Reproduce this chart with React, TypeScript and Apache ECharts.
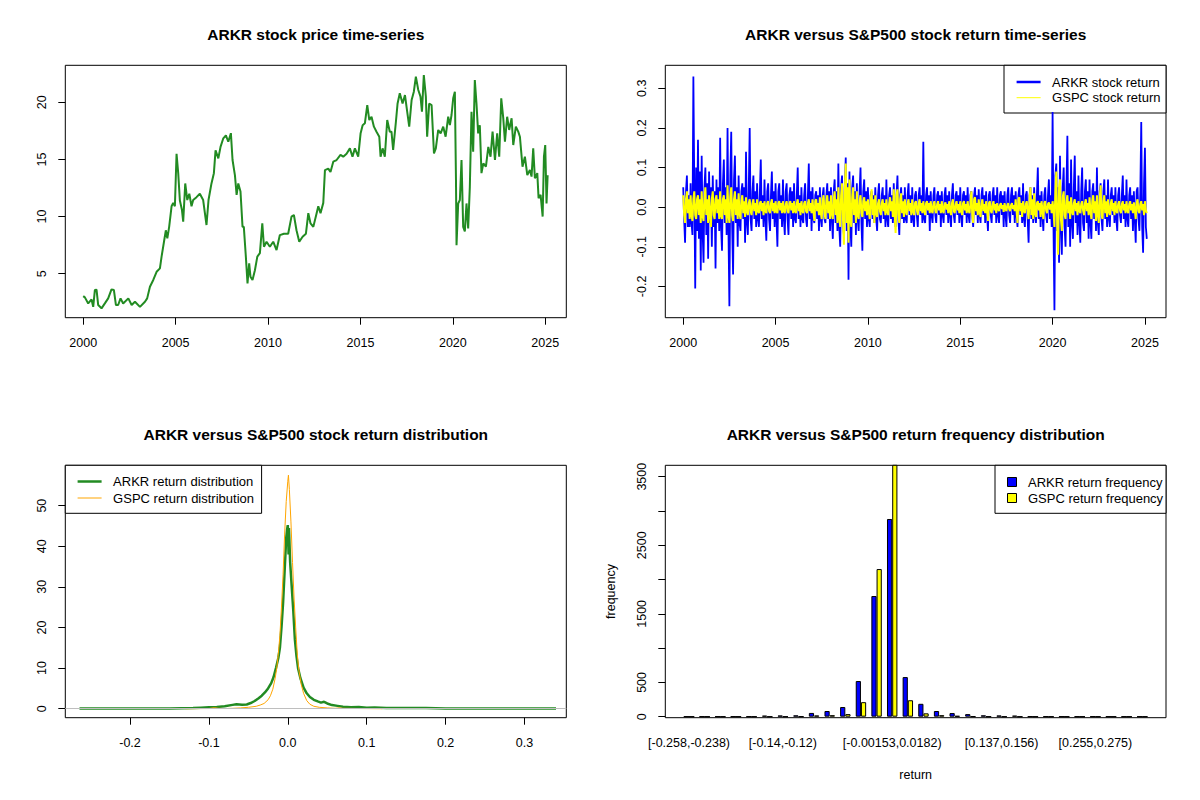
import React, { useRef, useEffect } from 'react'
import * as echarts from 'echarts'

// ---- price series ----
const priceYears = [
  2000.0, 2000.09, 2000.27, 2000.45, 2000.54, 2000.63, 2000.72, 2000.81, 2000.99, 2001.17,
  2001.35, 2001.53, 2001.66, 2001.77, 2001.89, 2002.02, 2002.16, 2002.44, 2002.62, 2002.8,
  2003.07, 2003.34, 2003.46, 2003.61, 2003.79, 2003.97, 2004.15, 2004.24, 2004.37, 2004.47,
  2004.55, 2004.65, 2004.78, 2004.87, 2004.96, 2005.05, 2005.14, 2005.23, 2005.34, 2005.41,
  2005.52, 2005.63, 2005.74, 2005.86, 2005.95, 2006.13, 2006.31, 2006.49, 2006.67, 2006.78,
  2006.94, 2007.07, 2007.16, 2007.31, 2007.43, 2007.58, 2007.72, 2007.85, 2007.99, 2008.08,
  2008.21, 2008.3, 2008.39, 2008.51, 2008.62, 2008.69, 2008.8, 2008.89, 2008.98, 2009.05,
  2009.16, 2009.29, 2009.42, 2009.56, 2009.69, 2009.78, 2009.92, 2010.1, 2010.28, 2010.46,
  2010.64, 2010.86, 2011.09, 2011.27, 2011.4, 2011.54, 2011.69, 2011.87, 2012.05, 2012.18,
  2012.3, 2012.45, 2012.63, 2012.72, 2012.84, 2012.99, 2013.08, 2013.26, 2013.38, 2013.53,
  2013.71, 2013.92, 2014.07, 2014.25, 2014.43, 2014.57, 2014.7, 2014.88, 2015.01, 2015.12,
  2015.24, 2015.37, 2015.48, 2015.6, 2015.73, 2015.87, 2016.02, 2016.09, 2016.2, 2016.32,
  2016.45, 2016.59, 2016.68, 2016.77, 2016.92, 2017.01, 2017.13, 2017.28, 2017.41, 2017.53,
  2017.64, 2017.77, 2017.89, 2018.0, 2018.13, 2018.25, 2018.33, 2018.43, 2018.54, 2018.61,
  2018.72, 2018.85, 2018.98, 2019.08, 2019.21, 2019.34, 2019.48, 2019.61, 2019.75, 2019.84,
  2019.93, 2020.02, 2020.11, 2020.17, 2020.2, 2020.29, 2020.38, 2020.47, 2020.56, 2020.65,
  2020.74, 2020.83, 2020.92, 2021.01, 2021.1, 2021.19, 2021.28, 2021.37, 2021.46, 2021.55,
  2021.65, 2021.79, 2021.92, 2022.04, 2022.15, 2022.28, 2022.4, 2022.51, 2022.62, 2022.73,
  2022.82, 2022.94, 2023.05, 2023.18, 2023.27, 2023.41, 2023.54, 2023.63, 2023.77, 2023.9,
  2024.03, 2024.17, 2024.26, 2024.35, 2024.44, 2024.57, 2024.64, 2024.75, 2024.86, 2024.93,
  2025.0, 2025.07, 2025.13,
]
const priceValues = [
  3.04, 2.93, 2.4, 2.75, 2.1, 3.57, 3.6, 2.26, 1.97, 2.4,
  2.84, 3.63, 3.57, 2.26, 2.26, 2.84, 2.4, 2.84, 2.26, 2.55,
  2.1, 2.55, 2.84, 3.86, 4.45, 5.17, 5.47, 6.5, 7.8, 8.8,
  8.1, 9.1, 10.9, 11.2, 10.9, 15.5, 13.8, 11.4, 10.6, 9.55,
  12.9, 11.45, 12.0, 10.9, 11.45, 11.7, 12.0, 11.45, 9.26, 11.45,
  12.9, 13.8, 15.8, 15.1, 16.1, 16.85, 17.1, 16.55, 17.3, 14.95,
  13.6, 11.9, 12.9, 12.2, 9.1, 9.1, 6.5, 4.15, 5.9, 4.74,
  4.45, 5.3, 6.5, 6.8, 9.4, 7.36, 7.8, 7.36, 7.8, 7.07,
  8.38, 8.5, 8.5, 10.0, 10.14, 8.8, 7.8, 8.24, 8.5, 10.3,
  9.4, 9.1, 10.3, 10.9, 10.3, 11.2, 14.07, 14.2, 13.9, 14.8,
  14.95, 15.4, 15.24, 15.5, 15.97, 15.24, 15.97, 15.24, 17.3, 18.0,
  18.16, 19.76, 18.45, 18.74, 17.87, 17.43, 16.99, 15.24, 15.97, 15.24,
  18.45, 17.43, 17.43, 15.83, 18.3, 19.9, 20.8, 19.9, 20.64, 19.18,
  17.87, 20.2, 20.93, 22.25, 21.08, 20.5, 19.18, 22.39, 20.5, 16.99,
  19.9, 19.76, 15.53, 15.97, 17.58, 17.28, 17.87, 16.99, 18.74, 18.0,
  18.89, 20.35, 20.93, 13.2, 7.5, 11.15, 11.45, 14.95, 9.1, 8.7,
  11.15, 8.97, 12.6, 19.18, 15.68, 21.95, 19.9, 17.28, 18.0, 13.8,
  14.66, 14.37, 16.1, 15.24, 17.43, 14.95, 17.28, 15.24, 20.35, 18.6,
  16.55, 18.74, 17.58, 18.6, 16.26, 17.87, 17.43, 16.99, 14.37, 15.24,
  13.63, 14.07, 13.5, 15.97, 13.35, 13.8, 11.6, 11.9, 10.0, 15.24,
  16.26, 11.15, 13.63,
]

// ---- daily returns, sampled twenty times a year from 2000 ----
const returnStartYear = 2000
const returnStep = 0.05
const arkrReturns = [
  0.05, -0.03, -0.09, 0.04, 0.08, -0.05, 0.03, -0.05, 0.06, -0.04, -0.07, 0.33, 0.05, -0.205, 0.1, -0.06, 0.17, -0.08, 0.09, -0.16,
  0.13, -0.06, -0.14, 0.05, 0.1, -0.07, 0.06, -0.13, 0.09, -0.04, 0.05, -0.1, 0.08, -0.05, 0.04, -0.155, 0.07, -0.04, 0.05, -0.06,
  0.175, -0.05, -0.11, 0.06, 0.12, -0.04, 0.05, -0.07, 0.2, -0.06, -0.25, 0.08, 0.19, -0.05, -0.17, 0.07, 0.13, -0.04, 0.05, -0.1,
  0.08, -0.04, -0.06, 0.04, 0.06, -0.03, 0.05, -0.09, 0.14, -0.04, -0.07, 0.05, 0.2, -0.03, -0.06, 0.04, 0.08, -0.03, 0.04, -0.05,
  0.06, -0.03, -0.05, 0.04, 0.12, -0.03, 0.03, -0.05, 0.07, -0.03, -0.085, 0.04, 0.06, -0.03, -0.06, 0.03, 0.09, -0.03, 0.04, -0.05,
  0.06, -0.03, -0.1, 0.04, 0.06, -0.03, 0.03, -0.05, 0.07, -0.03, -0.07, 0.04, 0.06, -0.03, -0.07, 0.03, 0.05, -0.03, 0.04, -0.05,
  0.06, -0.03, -0.04, 0.03, 0.1, -0.03, 0.03, -0.05, 0.05, -0.03, -0.04, 0.03, 0.06, -0.03, -0.05, 0.03, 0.11, -0.03, 0.04, -0.06,
  0.05, -0.03, -0.04, 0.03, 0.04, -0.03, 0.03, -0.06, 0.05, -0.03, -0.05, 0.03, 0.05, -0.03, -0.04, 0.03, 0.06, -0.03, 0.04, -0.06,
  0.05, -0.03, -0.08, 0.04, 0.07, -0.04, 0.04, -0.06, 0.11, -0.05, -0.1, 0.05, 0.08, -0.04, -0.07, 0.05, 0.125, -0.06, 0.06, -0.183,
  0.09, -0.04, -0.1, 0.05, 0.08, -0.04, 0.04, -0.07, 0.06, -0.03, -0.06, 0.04, 0.1, -0.04, -0.11, 0.04, 0.07, -0.03, 0.04, -0.05,
  0.05, -0.03, -0.05, 0.03, 0.04, -0.03, 0.03, -0.04, 0.05, -0.03, -0.06, 0.03, 0.06, -0.03, -0.04, 0.03, 0.05, -0.03, 0.03, -0.05,
  0.07, -0.03, -0.05, 0.03, 0.05, -0.03, 0.03, -0.04, 0.06, -0.03, -0.05, 0.03, 0.08, -0.03, -0.07, 0.03, 0.05, -0.03, 0.03, -0.04,
  0.05, -0.03, -0.04, 0.03, 0.06, -0.02, 0.03, -0.04, 0.05, -0.03, -0.05, 0.03, 0.04, -0.02, -0.05, 0.03, 0.05, -0.02, 0.03, -0.04,
  0.165, -0.03, -0.04, 0.03, 0.05, -0.02, 0.03, -0.06, 0.04, -0.02, -0.04, 0.03, 0.05, -0.02, -0.04, 0.03, 0.04, -0.02, 0.03, -0.05,
  0.04, -0.02, -0.04, 0.03, 0.05, -0.02, 0.03, -0.04, 0.04, -0.02, -0.05, 0.03, 0.06, -0.02, -0.04, 0.03, 0.04, -0.02, 0.03, -0.04,
  0.05, -0.02, -0.05, 0.03, 0.04, -0.02, 0.03, -0.04, 0.05, -0.02, -0.04, 0.03, 0.04, -0.02, -0.05, 0.03, 0.05, -0.02, 0.03, -0.04,
  0.045, -0.02, -0.04, 0.03, 0.05, -0.02, 0.03, -0.04, 0.04, -0.02, -0.06, 0.03, 0.04, -0.02, -0.04, 0.03, 0.05, -0.02, 0.03, -0.04,
  0.05, -0.02, -0.04, 0.03, 0.04, -0.02, 0.03, -0.05, 0.04, -0.02, -0.05, 0.03, 0.05, -0.02, -0.04, 0.03, 0.05, -0.02, 0.03, -0.04,
  0.04, -0.02, -0.05, 0.03, 0.05, -0.02, 0.03, -0.04, 0.06, -0.03, -0.05, 0.03, 0.04, -0.03, -0.09, 0.03, 0.05, -0.03, 0.03, -0.04,
  0.05, -0.02, -0.04, 0.03, 0.1, -0.03, 0.03, -0.05, 0.04, -0.02, -0.06, 0.03, 0.05, -0.02, -0.04, 0.03, 0.07, -0.03, 0.03, -0.05,
  0.24, -0.06, -0.26, 0.08, 0.11, -0.06, 0.05, -0.14, 0.13, -0.05, -0.12, 0.05, 0.1, -0.05, -0.1, 0.05, 0.18, -0.05, 0.06, -0.1,
  0.12, -0.04, -0.08, 0.05, 0.13, -0.04, 0.04, -0.07, 0.08, -0.04, -0.09, 0.04, 0.1, -0.04, -0.06, 0.04, 0.07, -0.04, 0.04, -0.08,
  0.07, -0.04, -0.08, 0.04, 0.06, -0.03, 0.04, -0.06, 0.1, -0.04, -0.07, 0.04, 0.06, -0.03, -0.06, 0.04, 0.07, -0.03, 0.03, -0.05,
  0.07, -0.03, -0.05, 0.03, 0.05, -0.02, 0.03, -0.04, 0.05, -0.03, -0.06, 0.03, 0.05, -0.02, -0.04, 0.03, 0.08, -0.03, 0.03, -0.05,
  0.07, -0.03, -0.05, 0.03, 0.05, -0.03, 0.03, -0.06, 0.04, -0.03, -0.09, 0.04, 0.05, -0.03, -0.06, 0.04, 0.215, -0.05, -0.115, 0.06,
  0.15, -0.05, -0.08,
]
const gspcReturns = [
  0.03, -0.02, -0.04, 0.02, 0.04, -0.015, 0.02, -0.03, 0.03, -0.02, -0.035, 0.02, 0.04, -0.02, -0.03, 0.02, 0.03, -0.02, 0.02, -0.04,
  0.04, -0.02, -0.035, 0.02, 0.05, -0.02, 0.02, -0.04, 0.03, -0.02, -0.05, 0.02, 0.04, -0.02, -0.03, 0.02, 0.03, -0.015, 0.02, -0.03,
  0.04, -0.02, -0.03, 0.02, 0.03, -0.02, 0.02, -0.04, 0.055, -0.02, -0.04, 0.025, 0.05, -0.02, -0.035, 0.02, 0.04, -0.02, 0.02, -0.03,
  0.035, -0.015, -0.03, 0.015, 0.03, -0.015, 0.015, -0.025, 0.025, -0.01, -0.02, 0.01, 0.02, -0.01, -0.02, 0.01, 0.02, -0.01, 0.01, -0.02,
  0.02, -0.01, -0.015, 0.01, 0.015, -0.01, 0.01, -0.02, 0.015, -0.01, -0.015, 0.01, 0.015, -0.01, -0.015, 0.01, 0.02, -0.01, 0.01, -0.015,
  0.015, -0.01, -0.015, 0.01, 0.015, -0.008, 0.01, -0.015, 0.015, -0.01, -0.015, 0.008, 0.015, -0.01, -0.015, 0.01, 0.015, -0.008, 0.01, -0.015,
  0.015, -0.01, -0.015, 0.01, 0.02, -0.01, 0.01, -0.02, 0.015, -0.008, -0.015, 0.01, 0.015, -0.01, -0.015, 0.01, 0.02, -0.01, 0.01, -0.015,
  0.02, -0.01, -0.035, 0.015, 0.02, -0.01, 0.01, -0.02, 0.025, -0.015, -0.03, 0.015, 0.03, -0.015, -0.03, 0.015, 0.03, -0.015, 0.015, -0.03,
  0.03, -0.015, -0.03, 0.02, 0.04, -0.02, 0.02, -0.04, 0.05, -0.025, -0.05, 0.03, 0.06, -0.03, -0.095, 0.04, 0.11, -0.04, 0.05, -0.09,
  0.07, -0.03, -0.05, 0.025, 0.05, -0.02, 0.02, -0.04, 0.04, -0.02, -0.03, 0.015, 0.03, -0.015, -0.025, 0.015, 0.025, -0.01, 0.015, -0.02,
  0.02, -0.01, -0.03, 0.015, 0.045, -0.02, 0.02, -0.04, 0.03, -0.015, -0.025, 0.01, 0.02, -0.01, -0.02, 0.01, 0.02, -0.01, 0.01, -0.02,
  0.02, -0.01, -0.02, 0.01, 0.025, -0.01, 0.015, -0.025, 0.045, -0.02, -0.065, 0.03, 0.045, -0.02, -0.04, 0.02, 0.035, -0.015, 0.015, -0.025,
  0.02, -0.01, -0.02, 0.01, 0.02, -0.01, 0.01, -0.02, 0.02, -0.01, -0.02, 0.01, 0.015, -0.008, -0.02, 0.01, 0.02, -0.01, 0.01, -0.015,
  0.015, -0.008, -0.02, 0.01, 0.015, -0.008, 0.01, -0.015, 0.015, -0.008, -0.015, 0.008, 0.015, -0.008, -0.015, 0.008, 0.015, -0.008, 0.008, -0.015,
  0.015, -0.008, -0.015, 0.008, 0.012, -0.006, 0.008, -0.015, 0.015, -0.008, -0.02, 0.01, 0.02, -0.01, -0.015, 0.008, 0.015, -0.008, 0.008, -0.015,
  0.015, -0.008, -0.02, 0.01, 0.015, -0.008, 0.008, -0.015, 0.015, -0.008, -0.015, 0.008, 0.04, -0.02, -0.04, 0.02, 0.025, -0.01, 0.01, -0.02,
  0.02, -0.01, -0.025, 0.01, 0.02, -0.01, 0.008, -0.015, 0.015, -0.008, -0.035, 0.01, 0.015, -0.008, -0.015, 0.008, 0.015, -0.008, 0.008, -0.015,
  0.01, -0.005, -0.01, 0.005, 0.01, -0.005, 0.005, -0.012, 0.01, -0.005, -0.01, 0.005, 0.01, -0.005, -0.01, 0.005, 0.01, -0.005, 0.005, -0.01,
  0.02, -0.01, -0.04, 0.02, 0.025, -0.01, 0.01, -0.025, 0.015, -0.008, -0.015, 0.008, 0.015, -0.01, -0.03, 0.015, 0.05, -0.02, 0.02, -0.03,
  0.035, -0.015, -0.025, 0.01, 0.015, -0.008, 0.01, -0.025, 0.015, -0.008, -0.03, 0.01, 0.015, -0.008, -0.015, 0.008, 0.012, -0.006, 0.008, -0.015,
  0.015, -0.01, -0.05, 0.04, 0.09, -0.05, -0.12, 0.05, 0.07, -0.03, -0.06, 0.025, 0.04, -0.02, -0.03, 0.015, 0.03, -0.015, 0.015, -0.03,
  0.025, -0.01, -0.02, 0.01, 0.02, -0.01, 0.01, -0.02, 0.015, -0.008, -0.015, 0.008, 0.015, -0.008, -0.02, 0.01, 0.02, -0.01, 0.01, -0.02,
  0.025, -0.01, -0.03, 0.015, 0.03, -0.015, 0.015, -0.035, 0.03, -0.015, -0.04, 0.02, 0.055, -0.02, -0.03, 0.015, 0.03, -0.015, 0.015, -0.025,
  0.02, -0.01, -0.02, 0.01, 0.02, -0.01, 0.01, -0.02, 0.015, -0.008, -0.015, 0.008, 0.015, -0.008, -0.015, 0.008, 0.015, -0.008, 0.008, -0.015,
  0.015, -0.008, -0.015, 0.008, 0.015, -0.008, 0.008, -0.015, 0.012, -0.006, -0.03, 0.01, 0.02, -0.01, -0.015, 0.008, 0.015, -0.008, 0.008, -0.02,
  0.015, -0.008, -0.015,
]

// ---- kernel density estimates ----
const arkrDensX = [
  -0.264, -0.2, -0.15, -0.12, -0.11, -0.1, -0.09, -0.08, -0.07, -0.065,
  -0.058, -0.052, -0.047, -0.042, -0.037, -0.033, -0.029, -0.025, -0.021, -0.018,
  -0.015, -0.012, -0.01, -0.008, -0.006, -0.004, -0.002, -0.001, 0.0, 0.001,
  0.0015, 0.003, 0.005, 0.007, 0.009, 0.011, 0.013, 0.016, 0.02, 0.024,
  0.028, 0.033, 0.038, 0.042, 0.046, 0.05, 0.056, 0.063, 0.07, 0.08,
  0.09, 0.1, 0.11, 0.125, 0.15, 0.175, 0.2, 0.25, 0.34,
]
const arkrDensY = [
  0.05, 0.05, 0.06, 0.15, 0.25, 0.35, 0.45, 0.6, 0.95, 1.1,
  1.0, 1.05, 1.4, 1.9, 2.6, 3.2, 4.0, 5.0, 6.3, 7.8,
  10.0, 12.5, 15.0, 20, 26, 34, 42, 44, 45.2, 38,
  44.5, 36, 30, 24, 17, 13, 10, 7.5, 5.2, 3.8,
  2.9, 2.2, 1.8, 1.5, 1.7, 1.3, 0.9, 0.7, 0.5, 0.35,
  0.4, 0.25, 0.3, 0.2, 0.2, 0.15, 0.05, 0.05, 0.05,
]
const gspcDensX = [
  -0.13, -0.1, -0.093, -0.088, -0.08, -0.07, -0.06, -0.05, -0.04, -0.035,
  -0.03, -0.025, -0.022, -0.019, -0.016, -0.014, -0.012, -0.01, -0.008, -0.006,
  -0.004, -0.002, 0.0, 0.0008, 0.002, 0.004, 0.006, 0.008, 0.01, 0.012,
  0.014, 0.017, 0.02, 0.024, 0.028, 0.033, 0.04, 0.05, 0.06, 0.065,
  0.07, 0.09, 0.12,
]
const gspcDensY = [
  0.0, 0.05, 0.25, 0.1, 0.05, 0.1, 0.2, 0.35, 0.6, 0.9,
  1.3, 2.2, 3.2, 4.8, 7.5, 10, 13.5, 18, 25, 33,
  43, 51, 56, 57.5, 54, 46, 36, 27, 20, 13.5,
  9.5, 6, 3.8, 2.0, 1.1, 0.6, 0.35, 0.2, 0.1, 0.2,
  0.1, 0.05, 0.0,
]

// ---- return frequency table ----
const binLabels = [
  '[-0.258,-0.238)', '[-0.238,-0.219)', '[-0.219,-0.199)', '[-0.199,-0.179)', '[-0.179,-0.159)',
  '[-0.159,-0.14)', '[-0.14,-0.12)', '[-0.12,-0.1)', '[-0.1,-0.0804)', '[-0.0804,-0.0607)',
  '[-0.0607,-0.041)', '[-0.041,-0.0212)', '[-0.0212,-0.00153)', '[-0.00153,0.0182)', '[0.0182,0.0379)',
  '[0.0379,0.0577)', '[0.0577,0.0774)', '[0.0774,0.0971)', '[0.0971,0.117)', '[0.117,0.137)',
  '[0.137,0.156)', '[0.156,0.176)', '[0.176,0.196)', '[0.196,0.215)', '[0.215,0.235)',
  '[0.235,0.255)', '[0.255,0.275)', '[0.275,0.294)', '[0.294,0.314)', '[0.314,0.334]',
]
const shownBinLabels = [0, 6, 13, 20, 26]
const arkrFreq = [
  1, 1, 2, 1, 2, 15, 18, 20, 55, 83,
  141, 520, 1760, 2883, 578, 188, 83, 53, 38, 20,
  18, 15, 3, 2, 1, 1, 2, 1, 0, 1,
]
const gspcFreq = [
  0, 0, 0, 0, 0, 0, 0, 3, 18, 22,
  38, 212, 2153, 3700, 240, 49, 22, 12, 4, 1,
  0, 0, 0, 0, 0, 0, 0, 0, 0, 0,
]

// ---- tick labels ----
const yearTicks = [2000, 2005, 2010, 2015, 2020, 2025]
const priceTicks = [5, 10, 15, 20]
const returnTicks = [-0.2, -0.1, 0, 0.1, 0.2, 0.3]
const densXTicks = [-0.2, -0.1, 0, 0.1, 0.2, 0.3]
const densYTicks = [0, 10, 20, 30, 40, 50]
const freqTicks = [0, 500, 1000, 1500, 2000, 2500, 3000, 3500]
const freqLabels = [0, 500, 1500, 2500, 3500]

const FONT = '"Liberation Sans", Arial, Helvetica, sans-serif'
const GREEN = '#228B22'

function valueAxis(gridIndex: number, min: number, max: number, ticks: number[], labels: number[], vertical: boolean, fmt?: (v: number) => string, extra: any = {}) {
  return {
    type: 'value',
    gridIndex,
    min,
    max,
    splitLine: { show: false },
    axisLine: { show: false, onZero: false },
    axisTick: { show: true, inside: false, length: 7, customValues: ticks, lineStyle: { color: '#000', width: 1 } },
    axisLabel: {
      show: true,
      customValues: labels,
      color: '#000',
      fontFamily: FONT,
      fontSize: 12.5,
      margin: vertical ? 17 : 19,
      rotate: vertical ? 90 : 0,
      formatter: fmt || ((v: number) => String(v)),
    },
    ...extra,
  }
}

function legendLine(x: number, y: number, color: string, width: number, text: string) {
  return [
    { type: 'line', silent: true, shape: { x1: x, y1: y, x2: x + 24, y2: y }, style: { stroke: color, lineWidth: width } },
    {
      type: 'text', silent: true, x: x + 35.5, y,
      style: { text, fill: '#000', font: '13px ' + FONT, textAlign: 'left', textVerticalAlign: 'middle', align: 'left', verticalAlign: 'middle' },
    },
  ]
}

function legendBox(x: number, y: number, color: string, text: string) {
  return [
    { type: 'rect', silent: true, shape: { x: x - 4.5, y: y - 4.5, width: 9, height: 9 }, style: { fill: color, stroke: '#000', lineWidth: 1 } },
    {
      type: 'text', silent: true, x: x + 16, y,
      style: { text, fill: '#000', font: '13px ' + FONT, textAlign: 'left', textVerticalAlign: 'middle', align: 'left', verticalAlign: 'middle' },
    },
  ]
}

function label(x: number, y: number, text: string, bold: boolean, size: number, rotation = 0) {
  return {
    type: 'text', silent: true, x, y, rotation,
    style: {
      text, fill: '#000', font: (bold ? 'bold ' : '') + size + 'px ' + FONT,
      textAlign: 'center', textVerticalAlign: 'middle', align: 'center', verticalAlign: 'middle',
    },
  }
}

function ReturnCharts() {
  const chartRef = useRef(null)

  useEffect(() => {
    document.body.style.margin = '0'
    const chart = echarts.init(chartRef.current, null, { renderer: 'svg' })

    const gridBox = { show: true, borderColor: '#000', borderWidth: 1, backgroundColor: 'transparent', containLabel: false, outerBoundsMode: 'none' }
    const fmt1 = (v: number) => v.toFixed(1)

    const option = {
      animation: false,
      backgroundColor: '#fff',
      grid: [
        { ...gridBox, left: 65.3, top: 65.3, width: 501, height: 252.4 },
        { ...gridBox, left: 665.3, top: 65.3, width: 500.7, height: 252.4 },
        { ...gridBox, left: 65.3, top: 465.3, width: 501, height: 252.4 },
        { ...gridBox, show: false, left: 681.2, top: 465.3, width: 468.9, height: 251.4 },
      ],
      xAxis: [
        valueAxis(0, 1999.03, 2026.14, yearTicks, yearTicks, false),
        valueAxis(1, 1999.03, 2026.14, yearTicks, yearTicks, false),
        valueAxis(2, -0.282, 0.353, densXTicks, densXTicks, false, fmt1),
        {
          type: 'category',
          gridIndex: 3,
          data: binLabels,
          axisLine: { show: false },
          axisTick: { show: false },
          splitLine: { show: false },
          axisLabel: {
            interval: (i: number) => shownBinLabels.includes(i),
            color: '#000',
            fontFamily: FONT,
            fontSize: 12.5,
            margin: 20,
          },
        },
      ],
      yAxis: [
        valueAxis(0, 1.15, 23.24, priceTicks, priceTicks, true),
        valueAxis(1, -0.279, 0.358, returnTicks, returnTicks, true, fmt1),
        valueAxis(2, -2.21, 59.93, densYTicks, densYTicks, true),
        valueAxis(3, 0, 3666, freqTicks, freqLabels, true, undefined, { offset: 15.9 }),
      ],
      series: [
        {
          type: 'line', xAxisIndex: 0, yAxisIndex: 0, showSymbol: false, silent: true,
          data: priceYears.map((y, i) => [y, priceValues[i]]),
          lineStyle: { color: GREEN, width: 2 },
        },
        {
          type: 'line', xAxisIndex: 1, yAxisIndex: 1, showSymbol: false, silent: true,
          data: arkrReturns.map((v, i) => [returnStartYear + i * returnStep, v]),
          lineStyle: { color: '#0000FF', width: 1.8 },
        },
        {
          type: 'line', xAxisIndex: 1, yAxisIndex: 1, showSymbol: false, silent: true,
          data: gspcReturns.map((v, i) => [returnStartYear + i * returnStep, v]),
          lineStyle: { color: '#FFFF00', width: 2 },
        },
        {
          type: 'line', xAxisIndex: 2, yAxisIndex: 2, showSymbol: false, silent: true,
          data: arkrDensX.map((x, i) => [x, arkrDensY[i]]),
          lineStyle: { color: GREEN, width: 2.5 },
          markLine: {
            silent: true, symbol: ['none', 'none'], label: { show: false },
            lineStyle: { color: '#BEBEBE', width: 1, type: 'solid' },
            data: [{ yAxis: 0 }],
          },
        },
        {
          type: 'line', xAxisIndex: 2, yAxisIndex: 2, showSymbol: false, silent: true,
          data: gspcDensX.map((x, i) => [x, gspcDensY[i]]),
          lineStyle: { color: '#FFA500', width: 1 },
        },
        {
          type: 'bar', xAxisIndex: 3, yAxisIndex: 3, silent: true,
          data: arkrFreq, barGap: '0%', barCategoryGap: '33.333%',
          itemStyle: { color: '#0000FF', borderColor: '#000', borderWidth: 1 },
        },
        {
          type: 'bar', xAxisIndex: 3, yAxisIndex: 3, silent: true,
          data: gspcFreq, barGap: '0%', barCategoryGap: '33.333%',
          itemStyle: { color: '#FFFF00', borderColor: '#000', borderWidth: 1 },
        },
      ],
      graphic: [
        label(315.8, 34, 'ARKR stock price time-series', true, 15.5),
        label(915.7, 34, 'ARKR versus S&P500 stock return time-series', true, 15.5),
        label(315.8, 434, 'ARKR versus S&P500 stock return distribution', true, 15.5),
        label(915.7, 434, 'ARKR versus S&P500 return frequency distribution', true, 15.5),
        label(915.7, 775, 'return', false, 12.5),
        label(611, 591.5, 'frequency', false, 12.5, Math.PI / 2),
        // frequency panel box
        { type: 'rect', silent: true, shape: { x: 665.3, y: 465.3, width: 500.7, height: 252.4 }, style: { fill: 'none', stroke: '#000', lineWidth: 1 } },
        // legend: returns
        { type: 'rect', silent: true, shape: { x: 1004, y: 65.3, width: 162, height: 47.7 }, style: { fill: '#fff', stroke: '#000', lineWidth: 1 } },
        ...legendLine(1016.6, 82, '#0000FF', 2.5, 'ARKR stock return'),
        ...legendLine(1016.6, 97.7, '#FFFF00', 1, 'GSPC stock return'),
        // legend: densities
        { type: 'rect', silent: true, shape: { x: 65.3, y: 465.3, width: 196.3, height: 48 }, style: { fill: '#fff', stroke: '#000', lineWidth: 1 } },
        ...legendLine(77.6, 481.5, GREEN, 2.5, 'ARKR return distribution'),
        ...legendLine(77.6, 498, '#FFA500', 1, 'GSPC return distribution'),
        // legend: frequencies
        { type: 'rect', silent: true, shape: { x: 995, y: 465.3, width: 171, height: 48 }, style: { fill: '#fff', stroke: '#000', lineWidth: 1 } },
        ...legendBox(1012, 482, '#0000FF', 'ARKR return frequency'),
        ...legendBox(1012, 498, '#FFFF00', 'GSPC return frequency'),
      ],
    }

    chart.setOption(option)

    return () => {
      chart.dispose()
    }
  }, [])

  return <div ref={chartRef} style={{ width: 1200, height: 800 }}></div>
}

export default function App() {
  return <ReturnCharts />
}
